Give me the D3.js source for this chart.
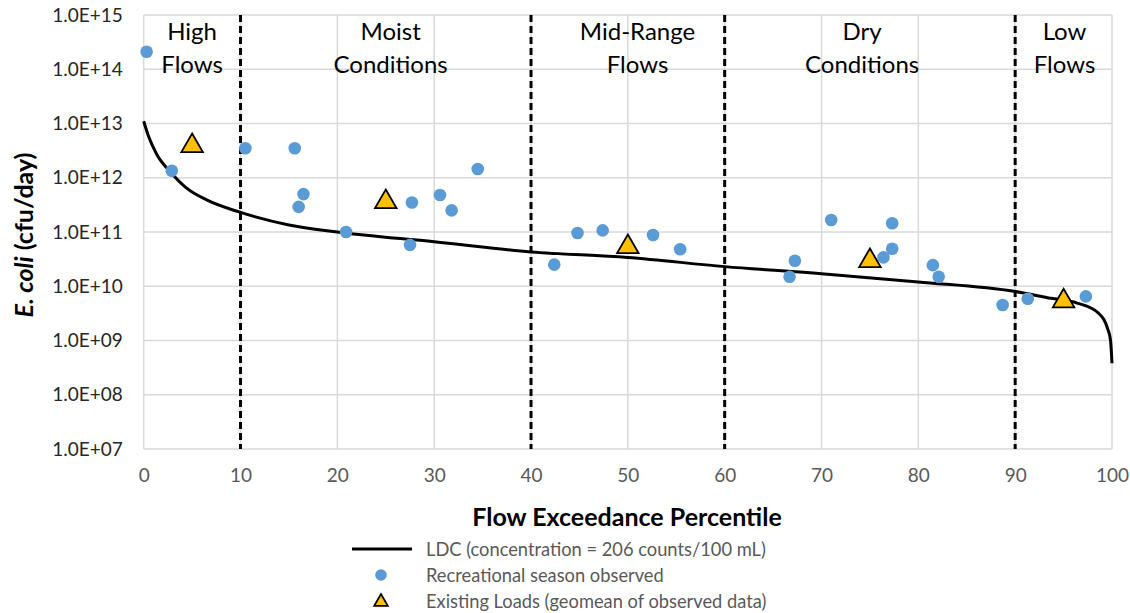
<!DOCTYPE html>
<html>
<head>
<meta charset="utf-8">
<script src="https://cdn.jsdelivr.net/npm/d3@7"></script>
<style>
  body { margin: 0; background: #fff; }
  svg { font-family: Lato, "Open Sans", sans-serif; }
</style>
</head>
<body>
<svg id="chart" width="1130" height="613"></svg>
<script>
// data
const ldc_pct  = [0, 0.5, 1.3, 2.9, 4.4, 6.5, 10, 15, 20, 30, 40, 50, 60, 70, 80, 90, 93.7, 96.4, 98.6, 99.6, 99.85, 100];
const ldc_load = [1.1e13, 5.8e12, 2.8e12, 1.2e12, 6.5e11, 3.9e11, 2.3e11, 1.35e11, 1.0e11, 6.6e10, 4.3e10, 3.4e10,
                  2.3e10, 1.7e10, 1.2e10, 8e9, 6e9, 4.9e9, 3.2e9, 1.55e9, 1.0e9, 3.8e8];

const obs_pct  = [0.3, 2.9, 10.5, 15.6, 16.5, 16.0, 20.9, 27.7, 27.5, 30.6, 31.8, 34.5, 42.4, 44.8, 47.4, 52.6, 55.4,
                  66.7, 67.25, 71.0, 76.4, 77.3, 77.3, 81.5, 82.1, 88.7, 91.3, 97.3];
const obs_load = [2.1e14, 1.35e12, 3.5e12, 3.5e12, 5e11, 2.9e11, 1.0e11, 3.5e11, 5.8e10, 4.8e11, 2.5e11, 1.45e12,
                  2.5e10, 9.6e10, 1.07e11, 8.8e10, 4.8e10, 1.5e10, 2.95e10, 1.66e11, 3.4e10, 4.9e10, 1.45e11,
                  2.45e10, 1.5e10, 4.5e9, 5.9e9, 6.5e9];

const geo_pct  = [5, 25, 50, 75, 95];
const geo_load = [4.2e12, 3.9e11, 5.8e10, 3.2e10, 5.8e9];

const zone_breaks = [10, 40, 60, 90];
const zone_labels = [
  {at: 5,    lines: ['High', 'Flows']},
  {at: 25.5, lines: ['Moist', 'Conditions']},
  {at: 51,   lines: ['Mid-Range', 'Flows']},
  {at: 74.2, lines: ['Dry', 'Conditions']},
  {at: 95.1, lines: ['Low', 'Flows']}
];

const x_ticks = [0, 10, 20, 30, 40, 50, 60, 70, 80, 90, 100];
const y_ticks = [1e7, 1e8, 1e9, 1e10, 1e11, 1e12, 1e13, 1e14, 1e15];

const legend_items = [
  {type: 'line', text: 'LDC (concentration = 206 counts/100 mL)'},
  {type: 'dot', text: 'Recreational season observed'},
  {type: 'tri', text: 'Existing Loads (geomean of observed data)'}
];

const svg = d3.select('#chart');

const x = d3.scaleLinear().domain([0, 100]).range([143.7, 1112]);
const y = d3.scaleLog().domain([1e7, 1e15]).range([449, 15]);

const grid_col = '#d9d9d9';
const blue = '#5b9bd5';
const gold = '#ffc000';

// grid
svg.append('g').selectAll('line.h')
  .data(y_ticks)
  .join('line')
  .attr('x1', x(0)).attr('x2', x(100))
  .attr('y1', d => y(d)).attr('y2', d => y(d))
  .attr('stroke', grid_col).attr('stroke-width', 1.5);

svg.append('g').selectAll('line.v')
  .data(x_ticks)
  .join('line')
  .attr('x1', d => x(d)).attr('x2', d => x(d))
  .attr('y1', y(1e7)).attr('y2', y(1e15))
  .attr('stroke', grid_col).attr('stroke-width', 1.5);

// axes (labels only, Excel style)
const fmt_exp = d => '1.0E+' + String(Math.round(Math.log10(d))).padStart(2, '0');

const y_axis = d3.axisLeft(y).tickValues(y_ticks).tickFormat(fmt_exp).tickSize(0).tickPadding(21);
const y_g = svg.append('g').attr('transform', `translate(${x(0)},0)`).call(y_axis);
y_g.select('.domain').remove();
y_g.selectAll('text').attr('font-size', 19).attr('fill', '#262626').attr('font-family', 'Lato, sans-serif');

const x_axis = d3.axisBottom(x).tickValues(x_ticks).tickSize(0).tickPadding(20);
const x_g = svg.append('g').attr('transform', `translate(0,${y(1e7)})`).call(x_axis);
x_g.select('.domain').remove();
x_g.selectAll('text').attr('font-size', 19).attr('fill', '#595959').attr('font-family', 'Lato, sans-serif');

// flow zone dividers
svg.append('g').selectAll('line')
  .data(zone_breaks)
  .join('line')
  .attr('x1', d => x(d)).attr('x2', d => x(d))
  .attr('y1', y(1e15)).attr('y2', y(1e7))
  .attr('stroke', '#000').attr('stroke-width', 3)
  .attr('stroke-dasharray', '7,4');

// zone labels
const zl = svg.append('g').selectAll('text')
  .data(zone_labels)
  .join('text')
  .attr('text-anchor', 'middle')
  .attr('font-size', 24)
  .attr('fill', '#000');
zl.each(function(d){
  const t = d3.select(this);
  d.lines.forEach((s, i) => {
    t.append('tspan').attr('x', x(d.at)).attr('y', 40 + i * 33).text(s);
  });
});

// LDC curve
const ldc = ldc_pct.map((p, i) => ({p: p, v: ldc_load[i]}));
svg.append('path')
  .datum(ldc)
  .attr('fill', 'none')
  .attr('stroke', '#000')
  .attr('stroke-width', 3)
  .attr('d', d3.line().x(d => x(d.p)).y(d => y(d.v)).curve(d3.curveMonotoneX));

// observed
svg.append('g').selectAll('circle')
  .data(obs_pct.map((p, i) => ({p: p, v: obs_load[i]})))
  .join('circle')
  .attr('cx', d => x(d.p)).attr('cy', d => y(d.v))
  .attr('r', 6.3).attr('fill', blue);

// geomean triangles
const tri = d3.symbol().type(d3.symbolTriangle).size(200);
svg.append('g').selectAll('path')
  .data(geo_pct.map((p, i) => ({p: p, v: geo_load[i]})))
  .join('path')
  .attr('transform', d => `translate(${x(d.p)},${y(d.v) + 2})`)
  .attr('d', tri)
  .attr('fill', gold).attr('stroke', '#000').attr('stroke-width', 1.8)
  .attr('stroke-linejoin', 'miter');

// axis titles
svg.append('text')
  .attr('x', 627).attr('y', 526)
  .attr('text-anchor', 'middle')
  .attr('font-size', 25).attr('font-weight', 'bold').attr('fill', '#000')
  .text('Flow Exceedance Percentile');

const yt = svg.append('text')
  .attr('transform', `translate(33,235) rotate(-90)`)
  .attr('text-anchor', 'middle')
  .attr('font-size', 25).attr('font-weight', 'bold').attr('fill', '#000');
yt.append('tspan').attr('font-style', 'italic').text('E. coli');
yt.append('tspan').text(' (cfu/day)');

// legend
const lg = svg.append('g');
legend_items.forEach((it, i) => {
  const cy = 549 + i * 26;
  if(it.type === 'line'){
    lg.append('line').attr('x1', 352).attr('x2', 412).attr('y1', cy).attr('y2', cy)
      .attr('stroke', '#000').attr('stroke-width', 3);
  }else if(it.type === 'dot'){
    lg.append('circle').attr('cx', 381).attr('cy', cy).attr('r', 5.8).attr('fill', blue);
  }else{
    lg.append('path').attr('transform', `translate(381,${cy + 1})`)
      .attr('d', d3.symbol().type(d3.symbolTriangle).size(80))
      .attr('fill', gold).attr('stroke', '#000').attr('stroke-width', 1.8);
  }
  lg.append('text').attr('x', 426).attr('y', cy + 7)
    .attr('font-size', 18.3).attr('fill', '#595959')
    .text(it.text);
});
</script>
</body>
</html>
